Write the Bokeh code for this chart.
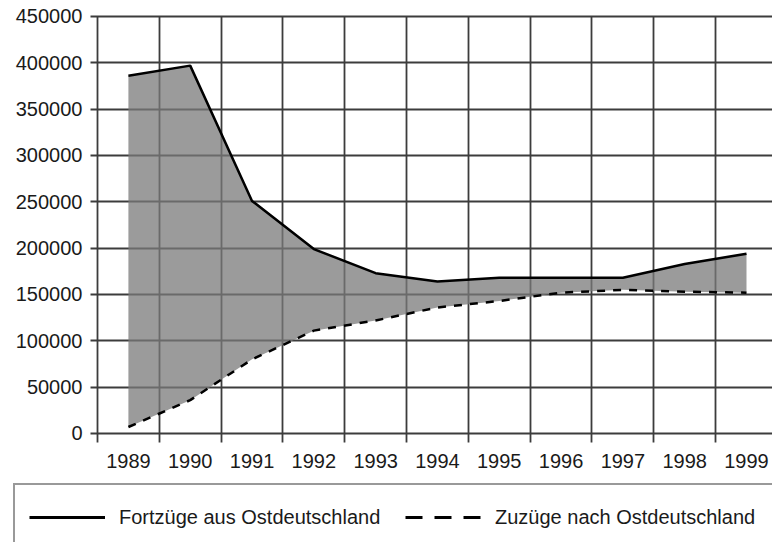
from bokeh.plotting import figure
from bokeh.models import Range1d, FixedTicker, Legend, LegendItem, ColumnDataSource
from bokeh.embed import file_html
from bokeh.resources import INLINE

# ---- data ----
years = [1989, 1990, 1991, 1992, 1993, 1994, 1995, 1996, 1997, 1998, 1999]
year_labels = ["1989", "1990", "1991", "1992", "1993", "1994", "1995", "1996", "1997", "1998", "1999"]
fortzuege = [386000, 397000, 251000, 199000, 173000, 164000, 168000, 168000, 168000, 183000, 194000]
zuzuege = [7000, 36000, 80000, 111000, 122000, 136000, 143000, 152000, 155000, 153000, 152000]
y_ticks = [0, 50000, 100000, 150000, 200000, 250000, 300000, 350000, 400000, 450000]
y_tick_labels = ["0", "50000", "100000", "150000", "200000", "250000", "300000", "350000", "400000", "450000"]
series_names = ["Fortzüge aus Ostdeutschland", "Zuzüge nach Ostdeutschland"]

FONT = "Liberation Sans"
TXT = "#1a1a1a"
NAN = float("nan")

# view geometry (whole canvas is the frame; grid and axes are bounded)
X0, X1 = 1986.9307, 1999.4207
Y0, Y1 = -117626, 467266
GRID_LEFT = 1988.3868      # left end of horizontal grid lines
GRID_BOTTOM = -9712        # bottom end of vertical grid lines

src = ColumnDataSource(data=dict(year=years, fort=fortzuege, zu=zuzuege))

p = figure(width=772, height=542, output_backend="svg", toolbar_location=None,
           x_range=Range1d(X0, X1), y_range=Range1d(Y0, Y1),
           min_border_left=0, min_border_right=0, min_border_top=0, min_border_bottom=0)
p.outline_line_color = None
p.background_fill_color = "white"
p.border_fill_color = "white"

# grid
half_years = [y - 0.5 for y in years] + [years[-1] + 0.5]
p.xgrid.ticker = FixedTicker(ticks=half_years)
p.xgrid.cross_bounds = (GRID_BOTTOM, y_ticks[-1])
p.ygrid.ticker = FixedTicker(ticks=y_ticks)
p.ygrid.cross_bounds = (GRID_LEFT, X1)
for g in (p.xgrid, p.ygrid):
    g.grid_line_color = "#3c3c3c"
    g.grid_line_width = 1.8

# area between series
p.varea(x="year", y1="zu", y2="fort", source=src, fill_color="#7a7a7a", fill_alpha=0.75)
p.line(x="year", y="fort", source=src, line_color="black", line_width=2.5)
p.line(x="year", y="zu", source=src, line_color="black", line_width=2.5, line_dash="8 8")

# legend-only glyphs (no visible data)
lr1 = p.line(x=[NAN], y=[NAN], line_color="black", line_width=3)
lr2 = p.line(x=[NAN], y=[NAN], line_color="black", line_width=3, line_dash="17 12")

# axes at fixed positions
p.xaxis.ticker = FixedTicker(ticks=years)
p.xaxis.major_label_overrides = {y: l for y, l in zip(years, year_labels)}
p.xaxis.fixed_location = GRID_BOTTOM
p.yaxis.ticker = FixedTicker(ticks=y_ticks)
p.yaxis.major_label_overrides = {t: l for t, l in zip(y_ticks, y_tick_labels)}
p.yaxis.fixed_location = GRID_LEFT
for ax in (p.xaxis[0], p.yaxis[0]):
    ax.axis_line_color = None
    ax.major_tick_line_color = None
    ax.minor_tick_line_color = None
    ax.major_tick_out = 0
    ax.major_tick_in = 0
    ax.major_label_text_font = FONT
    ax.major_label_text_color = TXT
    ax.major_label_text_font_size = "20px"
p.xaxis.major_label_standoff = 12
p.yaxis.major_label_standoff = 8

legend = Legend(items=[LegendItem(label=series_names[0], renderers=[lr1]),
                       LegendItem(label=series_names[1], renderers=[lr2])],
                location=(13, -9), orientation="horizontal",
                margin=0, padding=14, spacing=23,
                glyph_width=76, glyph_height=36, label_height=36, label_width=263,
                label_standoff=14,
                label_text_font=FONT, label_text_font_size="20px", label_text_color=TXT,
                border_line_color="#333333", border_line_width=2,
                background_fill_color="white", background_fill_alpha=1.0)
p.add_layout(legend)

open("out.html", "w").write(file_html(p, INLINE))
